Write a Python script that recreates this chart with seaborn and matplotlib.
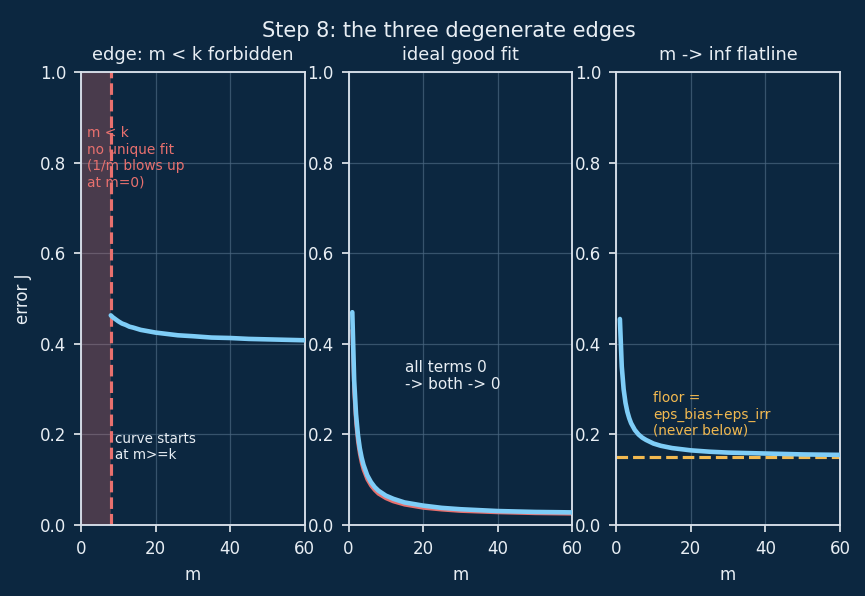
import matplotlib
matplotlib.use("Agg")
import matplotlib.pyplot as plt
import seaborn as sns

# ---- data ----
k_edge = 8
m_left = [8, 8.5, 9, 9.5, 10, 11, 12, 13, 14, 16, 18, 20, 23, 26, 30, 35, 40, 45, 50, 55, 60]
J_left = [0.463, 0.459, 0.456, 0.453, 0.450, 0.445, 0.442, 0.438, 0.436, 0.431, 0.428,
          0.425, 0.422, 0.419, 0.417, 0.414, 0.413, 0.411, 0.410, 0.409, 0.408]

m_mid = [1, 1.5, 2, 2.5, 3, 3.5, 4, 5, 6, 7, 8, 10, 12, 15, 20, 25, 30, 40, 50, 60]
J_mid_blue = [0.470, 0.320, 0.245, 0.200, 0.170, 0.149, 0.133, 0.110, 0.095, 0.084,
              0.076, 0.065, 0.058, 0.050, 0.043, 0.038, 0.035, 0.031, 0.029, 0.028]
J_mid_red = [0.430, 0.293, 0.225, 0.184, 0.157, 0.137, 0.122, 0.101, 0.087, 0.077,
             0.069, 0.059, 0.052, 0.045, 0.038, 0.034, 0.031, 0.028, 0.026, 0.025]

m_right = [1, 1.5, 2, 2.5, 3, 3.5, 4, 5, 6, 7, 8, 10, 12, 15, 20, 25, 30, 40, 50, 60]
J_right = [0.455, 0.350, 0.300, 0.270, 0.250, 0.236, 0.225, 0.210, 0.200, 0.193,
           0.188, 0.180, 0.175, 0.170, 0.165, 0.162, 0.160, 0.158, 0.156, 0.155]
floor_level = 0.15

titles = ["edge: m < k forbidden", "ideal good fit", "m -> inf flatline"]
suptitle = "Step 8: the three degenerate edges"

# ---- style ----
BG = "#0c2740"
FG = "#e8eef4"
BLUE = "#7fcdf7"
RED = "#e8706e"
ORANGE = "#f2b950"

sns.set_theme(style="darkgrid")
plt.rcParams.update({
    "figure.facecolor": BG,
    "axes.facecolor": BG,
    "axes.edgecolor": "#d8e0ea",
    "axes.labelcolor": FG,
    "xtick.color": FG,
    "ytick.color": FG,
    "text.color": FG,
    "grid.color": "#4a6680",
    "grid.linewidth": 0.6,
    "font.size": 8,
})
plt.rcParams["font.family"] = ["DejaVu Sans"]

fig, axes = plt.subplots(1, 3, figsize=(865 / 150, 596 / 150), dpi=150)
fig.subplots_adjust(left=0.0936, right=0.971, top=0.879, bottom=0.119, wspace=0.196)

for ax, t in zip(axes, titles):
    ax.set_xlim(0, 60)
    ax.set_ylim(0, 1)
    ax.set_title(t, fontsize=8.5, color=FG, pad=6)
    ax.set_xlabel("m", fontsize=8, color=FG)
    ax.set_xticks([0, 20, 40, 60])
    ax.set_yticks([0, 0.2, 0.4, 0.6, 0.8, 1.0])
    ax.tick_params(axis="both", labelsize=8, colors=FG, length=3.5, width=0.8,
                   bottom=True, left=True)
    ax.grid(True, color="#4a6680", linewidth=0.6, alpha=0.7)
    for s in ax.spines.values():
        s.set_color("#d8e0ea")
        s.set_linewidth(0.9)
    ax.set_axisbelow(True)

# panel 1
ax = axes[0]
ax.axvspan(0, k_edge, color=RED, alpha=0.28, lw=0, zorder=1)
ax.axvline(k_edge, color=RED, ls="--", lw=1.5, zorder=2)
sns.lineplot(x=m_left, y=J_left, ax=ax, color=BLUE, lw=2.2, zorder=3)
ax.text(1.5, 0.88, "m < k\nno unique fit\n(1/m blows up\nat m=0)", color=RED,
        fontsize=6.6, va="top", ha="left", linespacing=1.2)
ax.text(9, 0.205, "curve starts\nat m>=k", color=FG, fontsize=6.5, va="top", ha="left",
        linespacing=1.2)
ax.set_ylabel("error J", fontsize=8, color=FG)

# panel 2
ax = axes[1]
sns.lineplot(x=m_mid, y=J_mid_red, ax=ax, color=RED, lw=1.8, zorder=2)
sns.lineplot(x=m_mid, y=J_mid_blue, ax=ax, color=BLUE, lw=2.2, zorder=3)
ax.text(15, 0.365, "all terms 0\n-> both -> 0", color=FG, fontsize=7.3, va="top", ha="left",
        linespacing=1.2)
ax.set_ylabel("")

# panel 3
ax = axes[2]
ax.axhline(floor_level, color=ORANGE, ls="--", lw=1.5, zorder=2)
sns.lineplot(x=m_right, y=J_right, ax=ax, color=BLUE, lw=2.2, zorder=3)
ax.text(10, 0.295, "floor =\neps_bias+eps_irr\n(never below)", color=ORANGE, fontsize=6.6,
        va="top", ha="left", linespacing=1.2)
ax.set_ylabel("")

fig.suptitle(suptitle, fontsize=10, color=FG, x=0.519, y=0.965)
fig.savefig("out.png", dpi=150, facecolor=BG)
